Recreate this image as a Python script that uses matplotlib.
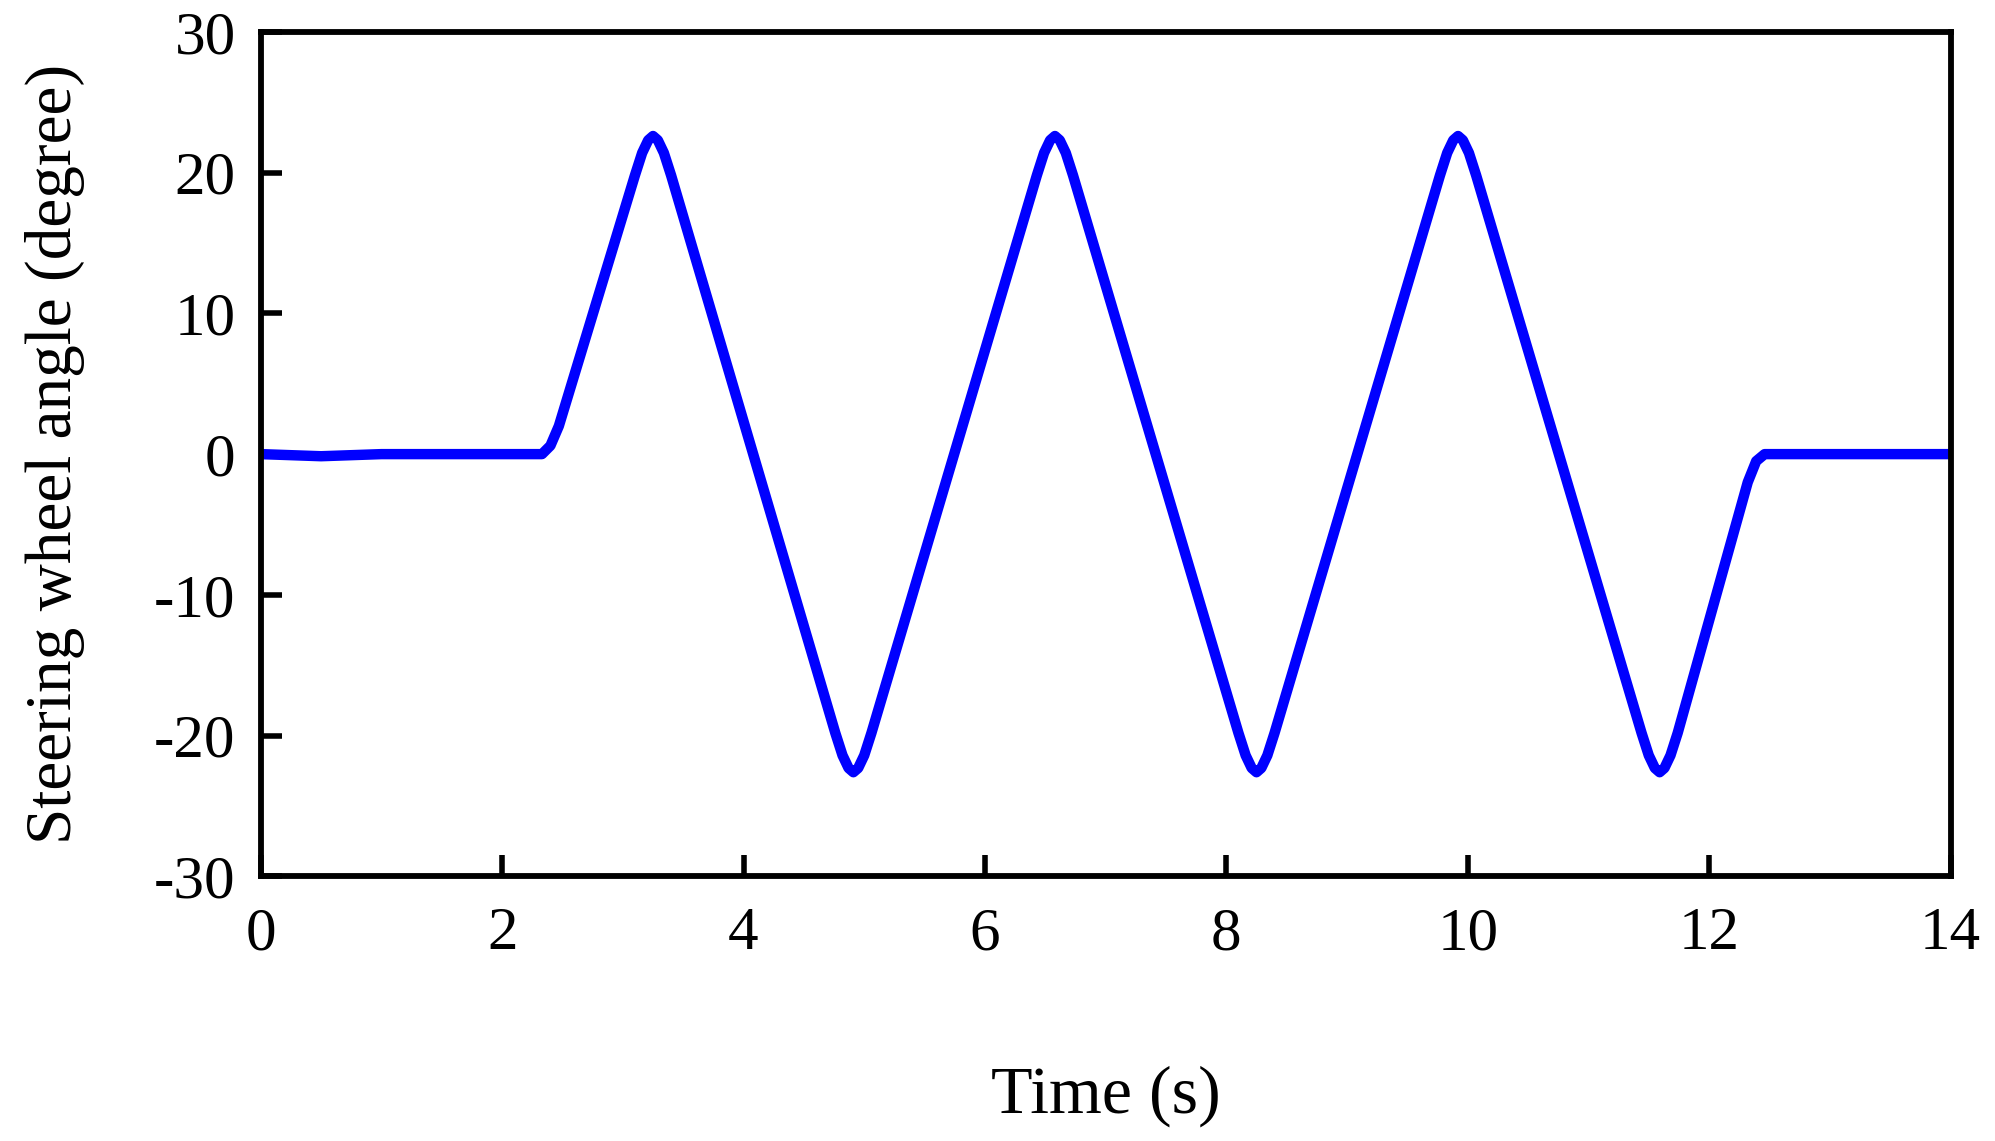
import matplotlib
matplotlib.use("Agg")
import matplotlib.pyplot as plt

plt.rcParams['font.family'] = ['Liberation Serif', 'DejaVu Serif']
plt.rcParams['axes.unicode_minus'] = False

# steering wheel angle
time_s = [0, 0.5, 1.0, 2.33, 2.40, 2.47,
          3.10, 3.16, 3.21, 3.25, 3.29, 3.34, 3.40,
          4.76, 4.82, 4.87, 4.91, 4.95, 5.00, 5.06,
          6.43, 6.49, 6.54, 6.58, 6.62, 6.67, 6.73,
          8.10, 8.16, 8.21, 8.25, 8.29, 8.34, 8.40,
          9.77, 9.83, 9.88, 9.92, 9.96, 10.01, 10.07,
          11.44, 11.50, 11.55, 11.59, 11.63, 11.68, 11.74,
          12.32, 12.39, 12.46, 14.0]
angle_deg = [0, -0.15, 0, 0, 0.6, 2.0,
             19.8, 21.4, 22.3, 22.6, 22.3, 21.4, 19.8,
             -19.8, -21.4, -22.3, -22.6, -22.3, -21.4, -19.8,
             19.8, 21.4, 22.3, 22.6, 22.3, 21.4, 19.8,
             -19.8, -21.4, -22.3, -22.6, -22.3, -21.4, -19.8,
             19.8, 21.4, 22.3, 22.6, 22.3, 21.4, 19.8,
             -19.8, -21.4, -22.3, -22.6, -22.3, -21.4, -19.8,
             -2.0, -0.5, 0, 0]

x_ticks = [0, 2, 4, 6, 8, 10, 12, 14]
y_ticks = [-30, -20, -10, 0, 10, 20, 30]

fig = plt.figure(figsize=(19.95, 11.41), dpi=100)
ax = fig.add_axes([0.1307, 0.2319, 0.8470, 0.7402])

ax.plot(time_s, angle_deg, color='#0000ff', linewidth=7.5, solid_capstyle='round', solid_joinstyle='round')

ax.set_xlim(0, 14)
ax.set_ylim(-30, 30)
ax.set_xticks(x_ticks)
ax.set_yticks(y_ticks)
ax.tick_params(direction='in', length=15, width=4, labelsize=44, pad=22,
               top=False, right=False)
ax.tick_params(axis='y', pad=18)
for s in ax.spines.values():
    s.set_linewidth(4.2)

ax.set_xlabel("Time (s)", fontsize=49, labelpad=74)
ax.set_ylabel("Steering wheel angle (degree)", fontsize=47, labelpad=50)

fig.savefig('out.png', dpi=100)
